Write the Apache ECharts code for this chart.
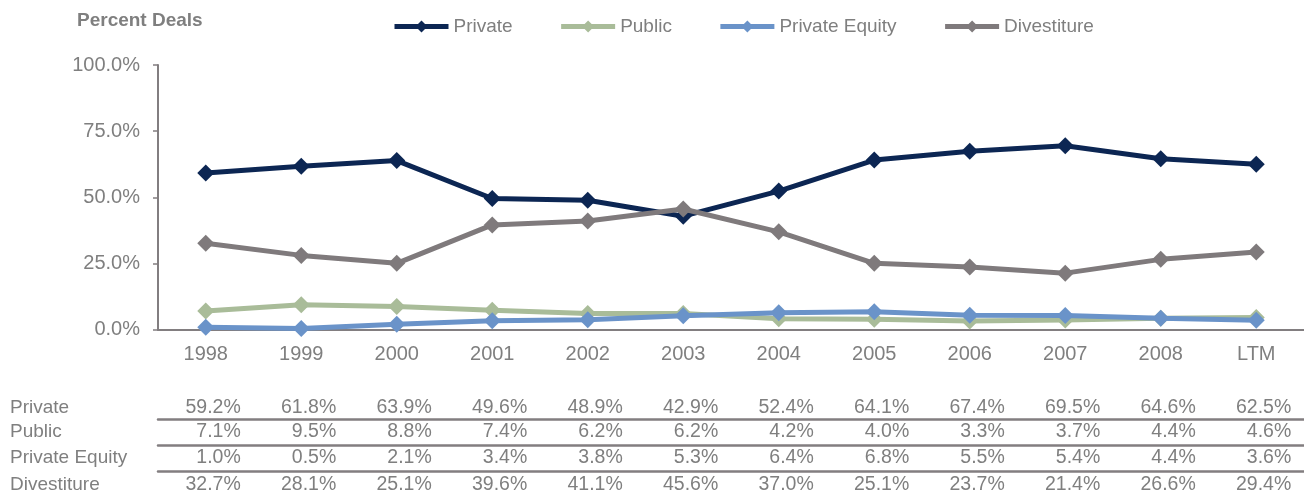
<!DOCTYPE html>
<html>
<head>
<meta charset="utf-8">
<title>Percent Deals</title>
<script src="https://cdn.jsdelivr.net/npm/echarts@6/dist/echarts.min.js"></script>
<style>
  html, body { margin: 0; padding: 0; background: #fff; }
  #chart { width: 1304px; height: 495px; }
</style>
</head>
<body>
<div id="chart"></div>
<script>
// data
const years = ['1998', '1999', '2000', '2001', '2002', '2003', '2004', '2005', '2006', '2007', '2008', 'LTM'];
const seriesNames = ['Private', 'Public', 'Private Equity', 'Divestiture'];
const privateDeals = [59.2, 61.8, 63.9, 49.6, 48.9, 42.9, 52.4, 64.1, 67.4, 69.5, 64.6, 62.5];
const publicDeals = [7.1, 9.5, 8.8, 7.4, 6.2, 6.2, 4.2, 4.0, 3.3, 3.7, 4.4, 4.6];
const peDeals = [1.0, 0.5, 2.1, 3.4, 3.8, 5.3, 6.4, 6.8, 5.5, 5.4, 4.4, 3.6];
const divestDeals = [32.7, 28.1, 25.1, 39.6, 41.1, 45.6, 37.0, 25.1, 23.7, 21.4, 26.6, 29.4];
const yTicks = [0, 25, 50, 75, 100];

const allSeries = [privateDeals, publicDeals, peDeals, divestDeals];
const colors = ['#0c2653', '#a9bc99', '#6a93c9', '#7f7a7c'];
const gray = '#7f7f7f';
const axisGray = '#827e80';
const font = '"Liberation Sans", Arial, sans-serif';

let myChart = echarts.init(document.getElementById('chart'));

// table rows: each row is a bottom category axis, its line is the separator above the row
const rowOffsets = [65, 89, 115, 141];   // axis line position below the grid
const rowMargins = [3.2, 3.2, 3.2, 4.2];
const tableAxes = allSeries.map((vals, i) => ({
  type: 'category',
  gridIndex: 0,
  position: 'bottom',
  offset: rowOffsets[i],
  data: vals.map(v => v.toFixed(1) + '%'),
  axisLine: { show: i > 0, lineStyle: { color: axisGray, width: 2.5 } },
  axisTick: { show: false },
  axisLabel: {
    interval: 0,
    margin: rowMargins[i],
    color: gray,
    fontSize: 19.5,
    fontFamily: font,
    formatter: v => '{v|' + v + '}',
    rich: { v: { width: 70, align: 'right', color: gray, fontSize: 19.5, fontFamily: font } }
  }
}));

let option = {
  animation: false,
  textStyle: { fontFamily: font },
  title: {
    text: 'Percent Deals',
    left: 72,
    top: 6,
    textStyle: { color: gray, fontSize: 19, fontWeight: 'bold', fontFamily: font }
  },
  legend: {
    data: seriesNames,
    left: 387,
    top: 12,
    itemWidth: 54,
    itemHeight: 15,
    itemGap: 46,
    lineStyle: { width: 5 },
    textStyle: { color: gray, fontSize: 19, fontFamily: font }
  },
  grid: { left: 158, top: 65, width: 1152, bottom: 165 },
  xAxis: [{
    type: 'category',
    data: years,
    axisLine: { lineStyle: { color: axisGray, width: 2 } },
    axisTick: { length: 5, lineStyle: { color: axisGray, width: 2 } },
    axisLabel: { interval: 0, margin: 15, color: gray, fontSize: 20, fontFamily: font }
  }].concat(tableAxes),
  yAxis: {
    type: 'value',
    min: yTicks[0],
    max: yTicks[yTicks.length - 1],
    interval: yTicks[1] - yTicks[0],
    splitLine: { show: false },
    axisLine: { show: true, lineStyle: { color: axisGray, width: 2 } },
    axisTick: { show: true, length: 5, lineStyle: { color: axisGray, width: 1.5 } },
    axisLabel: { margin: 18, color: gray, fontSize: 20, fontFamily: font, formatter: v => v.toFixed(1) + '%' }
  },
  series: allSeries.map((vals, i) => ({
    name: seriesNames[i],
    type: 'line',
    data: vals,
    symbol: 'diamond',
    symbolSize: 17,
    color: colors[i],
    lineStyle: { width: 5, color: colors[i] },
    itemStyle: { color: colors[i] },
    z: 2 + i
  })),
  graphic: seriesNames.map((name, i) => ({
    type: 'text',
    left: 10,
    top: [398, 422, 448, 475][i],
    style: { text: name, fill: gray, font: '19px ' + font }
  }))
};

myChart.setOption(option);
</script>
</body>
</html>
